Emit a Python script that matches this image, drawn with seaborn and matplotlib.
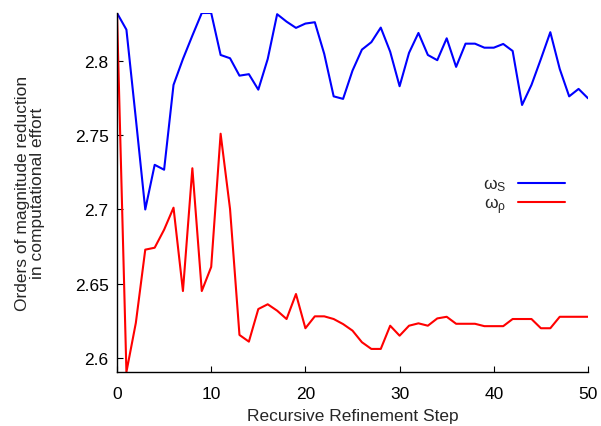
import numpy as np
import pandas as pd
import matplotlib
matplotlib.use("Agg")
import matplotlib.pyplot as plt
import seaborn as sns
from matplotlib.lines import Line2D

steps = list(range(51))
omega_s = [2.832, 2.8208, 2.761, 2.700, 2.730, 2.7267, 2.7837, 2.8011, 2.8168, 2.832,
           2.832, 2.8038, 2.8016, 2.7899, 2.7909, 2.7805, 2.8011, 2.8312, 2.8262, 2.822,
           2.8249, 2.8258, 2.8045, 2.776, 2.7743, 2.7933, 2.8074, 2.8124, 2.8222, 2.806,
           2.7828, 2.8052, 2.8186, 2.8038, 2.8003, 2.815, 2.7958, 2.8114, 2.8114, 2.8087,
           2.8087, 2.8112, 2.8065, 2.7702, 2.7837, 2.8011, 2.8191, 2.7944, 2.776, 2.781,
           2.7747]
omega_rho = [2.832, 2.5908, 2.6238, 2.673, 2.6743, 2.6864, 2.7012, 2.6452, 2.7277, 2.6452,
             2.6614, 2.7509, 2.7003, 2.6157, 2.6112, 2.6331, 2.6363, 2.632, 2.6264, 2.6432,
             2.6202, 2.6282, 2.6282, 2.6264, 2.623, 2.6186, 2.6108, 2.6063, 2.6063, 2.6219,
             2.6152, 2.6219, 2.6235, 2.6219, 2.6268, 2.6279, 2.6232, 2.6232, 2.6232, 2.6216,
             2.6216, 2.6216, 2.6264, 2.6264, 2.6264, 2.6202, 2.6202, 2.6279, 2.6279, 2.6279,
             2.6279]
series_labels = ["ω$_\\mathrm{S}$", "ω$_\\mathrm{ρ}$"]
x_ticks = [0, 10, 20, 30, 40, 50]
y_ticks = [2.6, 2.65, 2.7, 2.75, 2.8]
y_tick_labels = ["2.6", "2.65", "2.7", "2.75", "2.8"]

sns.set_style("ticks")
plt.rcParams["font.family"] = ["Liberation Sans", "DejaVu Sans"]
plt.rcParams["mathtext.fontset"] = "custom"
plt.rcParams["mathtext.rm"] = "Liberation Sans"
plt.rcParams["mathtext.it"] = "Liberation Sans"

df = pd.DataFrame({
    "step": steps * 2,
    "value": omega_s + omega_rho,
    "series": [series_labels[0]] * len(steps) + [series_labels[1]] * len(steps),
})

fig = plt.figure(figsize=(6.01, 4.27), dpi=100)
ax = fig.add_axes([117 / 601, 1 - 373 / 427, (588 - 117) / 601, (373 - 14) / 427])
sns.lineplot(data=df, x="step", y="value", hue="series",
             palette={series_labels[0]: "#0000ff", series_labels[1]: "#ff0000"},
             linewidth=1.5, ax=ax, legend=False)

ax.set_xlim(0, 50)
ymin = min(omega_s + omega_rho)
ymax = max(omega_s + omega_rho)
ax.set_ylim(ymin, ymax)
ax.set_xticks(x_ticks)
ax.set_yticks(y_ticks)
ax.set_yticklabels(y_tick_labels)
ax.tick_params(direction="in", length=4, width=0.8, labelsize=12.5, colors="black")
ax.tick_params(axis="x", pad=10)
ax.tick_params(axis="y", pad=6)
for side in ["top", "right"]:
    ax.spines[side].set_visible(False)
for side in ["left", "bottom"]:
    ax.spines[side].set_linewidth(1.0)
    ax.spines[side].set_color("black")

ax.set_xlabel("Recursive Refinement Step", fontsize=12.5, labelpad=5)
ax.set_ylabel("Orders of magnitude reduction\nin computational effort", fontsize=12.5,
              linespacing=1.05)
ax.yaxis.set_label_coords(-0.152, 0.5)

handles = [Line2D([], [], color="#0000ff", lw=1.5), Line2D([], [], color="#ff0000", lw=1.5)]
ax.legend(handles, series_labels, frameon=False, markerfirst=False, fontsize=12.5,
          loc="center right", bbox_to_anchor=(0.985, 0.49), handlelength=2.7,
          handletextpad=0.7, labelspacing=0.1)

fig.savefig("out.png", dpi=100)
